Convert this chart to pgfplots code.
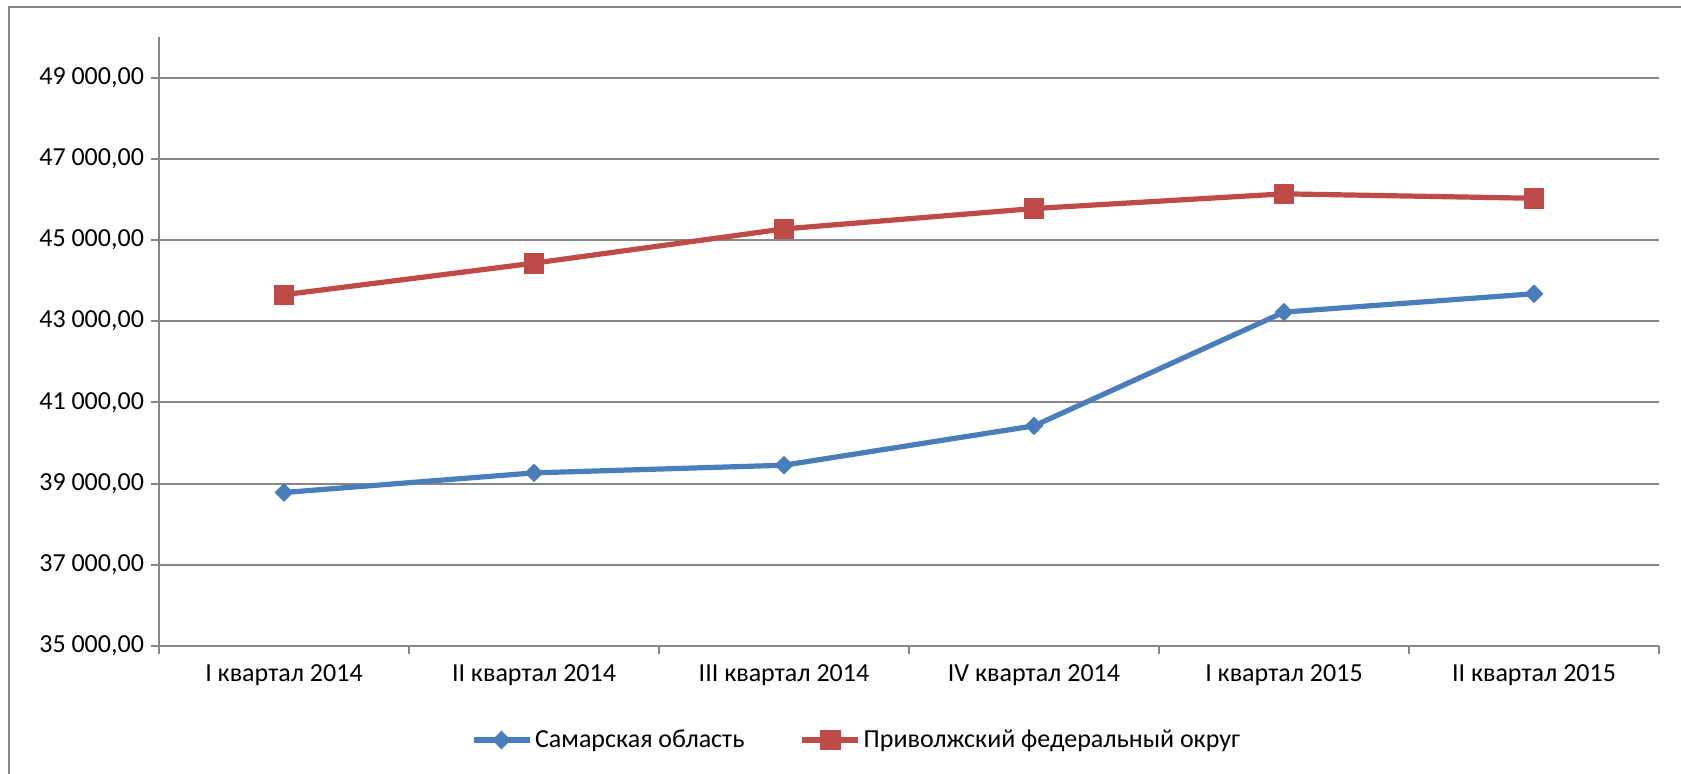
\documentclass[border=0pt]{standalone}
\usepackage{pgfplots}
\pgfplotsset{compat=1.18}
\usepackage{fontspec}
\setmainfont{Carlito}
\definecolor{sblue}{HTML}{4A7EBB}
\definecolor{sred}{HTML}{BE4B48}
\definecolor{ggray}{HTML}{868686}
\begin{document}
\begin{tikzpicture}
\begin{axis}[
  scale only axis, width=750pt, height=304.5pt,
  xmin=-0.5, xmax=5.5, ymin=35000, ymax=50000,
  scaled y ticks=false,
  axis x line*=bottom, axis y line*=left,
  axis line style={ggray, line width=1pt, -},
  tick align=outside,
  tick style={ggray, line width=1pt},
  major tick length=4pt,
  xtick={-0.5,0.5,1.5,2.5,3.5,4.5,5.5},
  xticklabels={},
  extra x ticks={0,1,2,3,4,5},
  extra x tick labels={I квартал 2014,II квартал 2014,III квартал 2014,IV квартал 2014,I квартал 2015,II квартал 2015},
  extra x tick style={major tick length=0pt, tick label style={yshift=-6pt}},
  ytick={35000,37000,39000,41000,43000,45000,47000,49000},
  yticklabels={{35 000,00},{37 000,00},{39 000,00},{41 000,00},{43 000,00},{45 000,00},{47 000,00},{49 000,00}},
  ymajorgrids,
  grid style={ggray, line width=1pt},
  tick label style={font=\fontsize{13}{15}\selectfont, black},
  legend style={at={(0.4653,-0.1544)}, anchor=center, draw=none, legend columns=2,
    font=\fontsize{13}{15}\selectfont,
    /tikz/every even column/.append style={column sep=26pt},
    nodes={inner sep=1.5pt}},
  legend image code/.code={\draw[#1, mark repeat=2, mark phase=2] plot coordinates {(0pt,0pt) (14pt,0pt) (28pt,0pt)};},
]
\addplot[sblue, line width=2.6pt, mark=square*, mark size=3.1pt,
  mark options={solid, rotate=45, fill=sblue, draw=sblue, line width=0.4pt}]
  coordinates {(0,38781) (1,39264) (2,39453) (3,40422) (4,43224) (5,43676)};
\addlegendentry{Самарская область}
\addplot[sred, line width=2.6pt, mark=square*, mark size=4.9pt,
  mark options={solid, fill=sred, draw=sred, line width=0.4pt}]
  coordinates {(0,43652) (1,44430) (2,45273) (3,45775) (4,46137) (5,46028)};
\addlegendentry{Приволжский федеральный округ}
\end{axis}
\draw[ggray, line width=1.2pt] (-75pt,-100pt) -- (-75pt,319.5pt) -- (800pt,319.5pt);
\pgfresetboundingbox
\path[use as bounding box] (-79.5pt,-63.5pt) rectangle (761pt,323pt);
\end{tikzpicture}
\end{document}
